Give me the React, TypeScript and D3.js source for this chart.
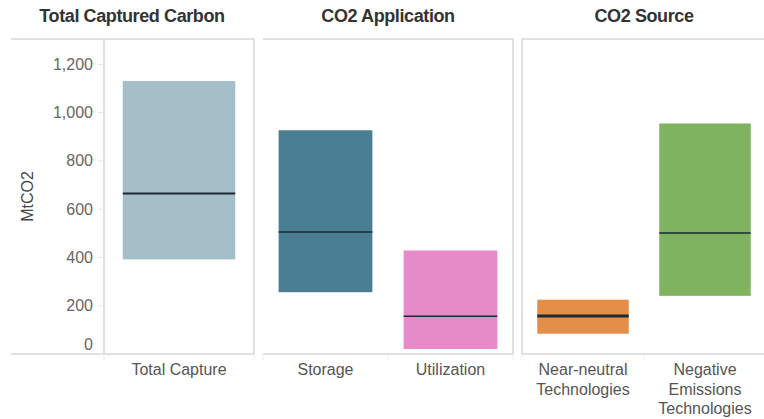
import * as d3 from "d3";

// panel titles and the categories inside each panel
const panelTitles = ["Total Captured Carbon", "CO2 Application", "CO2 Source"];
const categories = [
  "Total Capture",
  "Storage",
  "Utilization",
  "Near-neutral Technologies",
  "Negative Emissions Technologies",
];
const categoryPanel = [0, 1, 1, 2, 2];
const categoryLines = [
  ["Total Capture"],
  ["Storage"],
  ["Utilization"],
  ["Near-neutral", "Technologies"],
  ["Negative", "Emissions", "Technologies"],
];

// range low / high and median (MtCO2)
const lows = [392, 256, 21, 84, 241];
const highs = [1131, 927, 429, 225, 955];
const medians = [665, 505, 156, 157, 501];

const yTicks = [0, 200, 400, 600, 800, 1000, 1200];
const yMax = 1305;

const colors = ["#a5bfc8", "#4a7e92", "#e68ac8", "#e38f4a", "#7fb360"];
const medianWidths = [2, 1.5, 1.5, 3, 1.5];

const width = 764;
const height = 419;
const top = 39;
const bottom = 354;

// plot area of every panel, and where its frame lines start
const panelRanges: [number, number][] = [
  [104, 254],
  [263, 513],
  [522, 766],
];
const frameStart = [11, 263, 522];
const leftBorder = [true, false, true];
const titleCenter = [132, 388, 644];

const font = "'Liberation Sans', Arial, sans-serif";
const grid = "#d6d6d6";

export default function App() {
  const y = d3.scaleLinear().domain([0, yMax]).range([bottom, top]);

  const xScales = panelRanges.map((r, p) =>
    d3
      .scaleBand<string>()
      .domain(categories.filter((_, i) => categoryPanel[i] === p))
      .range(r)
      .paddingInner(0.25)
      .paddingOuter(0.125)
  );

  return (
    <svg
      width={width}
      height={height}
      style={{ position: "absolute", left: 0, top: 0, background: "#fff" }}
      fontFamily={font}
    >
      {/* panel frames and titles */}
      {panelRanges.map((r, p) => {
        const x = xScales[p];
        const edges = x.domain().map((c) => (x(c) as number) - (x.step() * x.paddingInner()) / 2);
        return (
          <g key={p}>
            <text
              x={titleCenter[p]}
              y={22}
              textAnchor="middle"
              fontSize={18}
              fontWeight="bold"
              fill="#333"
              letterSpacing={-0.4}
            >
              {panelTitles[p]}
            </text>
            <line x1={frameStart[p]} x2={r[1]} y1={top} y2={top} stroke={grid} strokeWidth={1.5} />
            <line x1={frameStart[p]} x2={r[1]} y1={bottom} y2={bottom} stroke={grid} strokeWidth={1.5} />
            {leftBorder[p] && (
              <line x1={r[0]} x2={r[0]} y1={top} y2={bottom} stroke={grid} strokeWidth={1.5} />
            )}
            {p < 2 && <line x1={r[1]} x2={r[1]} y1={top} y2={bottom} stroke={grid} strokeWidth={1.5} />}
            {[r[0], ...edges.slice(1), r[1]].map((ex, i) => (
              <line key={i} x1={ex} x2={ex} y1={bottom} y2={bottom + 6} stroke="#eee" />
            ))}
          </g>
        );
      })}

      {/* y axis */}
      {yTicks.map((t) => (
        <g key={t}>
          <line x1={98} x2={103} y1={y(t)} y2={y(t)} stroke="#e6e6e6" />
          <text
            x={93}
            y={Math.min(y(t), bottom - 10)}
            dy="0.35em"
            textAnchor="end"
            fontSize={16}
            fill="#666"
          >
            {d3.format(",")(t)}
          </text>
        </g>
      ))}
      <text
        transform={`translate(33, ${(top + bottom) / 2}) rotate(-90)`}
        textAnchor="middle"
        fontSize={16}
        fill="#444"
      >
        MtCO2
      </text>

      {/* range boxes and medians */}
      {categories.map((c, i) => {
        const x = xScales[categoryPanel[i]];
        const x0 = x(c) as number;
        const bw = x.bandwidth();
        return (
          <g key={c}>
            <rect x={x0} width={bw} y={y(highs[i])} height={y(lows[i]) - y(highs[i])} fill={colors[i]} />
            <line
              x1={x0}
              x2={x0 + bw}
              y1={y(medians[i])}
              y2={y(medians[i])}
              stroke="#1b2b33"
              strokeWidth={medianWidths[i]}
            />
            <text textAnchor="middle" fontSize={16} fill="#555">
              {categoryLines[i].map((l, j) => (
                <tspan key={j} x={x0 + bw / 2} y={375 + j * 19.5}>
                  {l}
                </tspan>
              ))}
            </text>
          </g>
        );
      })}
    </svg>
  );
}
